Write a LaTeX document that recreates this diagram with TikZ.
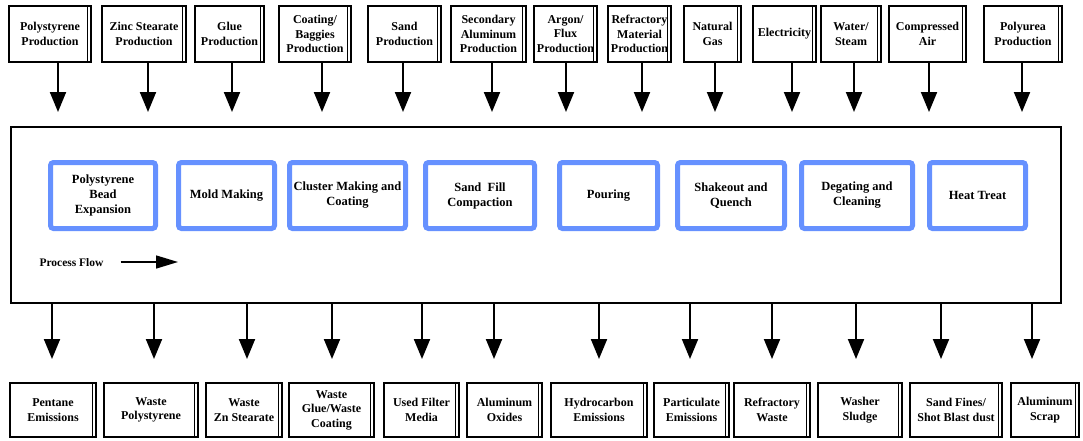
\documentclass[tikz,border=0pt]{standalone}
\usepackage{fontspec}
\setmainfont{Liberation Serif}
\usepackage{xcolor}
\usepackage{tikz}
\usetikzlibrary{arrows.meta}
\usetikzlibrary{calc}

\definecolor{procblue}{RGB}{102,145,255}

\tikzset{
  srcbox/.style={draw, line width=2.4pt, align=center, inner sep=1pt,
    font=\bfseries\fontsize{12}{14.5}\selectfont,
    path picture={\draw[line width=0.7pt]
      ([xshift=-3.2pt]path picture bounding box.north east) --
      ([xshift=-3.2pt]path picture bounding box.south east);}},
  procbox/.style={draw=procblue, line width=5pt, rounded corners=3pt,
    align=center, inner sep=1pt, minimum height=66pt,
    font=\bfseries\fontsize{12.5}{15}\selectfont},
  flow/.style={line width=2pt, -{Triangle[width=16pt,length=20pt]}},
  flowarrow/.style={line width=1.5pt, -{Triangle[width=13pt,length=22pt]}}
}

\begin{document}
\begin{tikzpicture}[x=1pt,y=-1pt]
\useasboundingbox (0,0) rectangle (1083,440);
%% main process frame
\node[draw, line width=2pt, minimum width=1050pt, minimum height=176pt, inner sep=0pt] (main) at (536,215) {};

%% inputs
\foreach \n/\cx/\w/\txt in {s1/50/84/{Polystyrene\\Production}, s2/144/86/{Zinc Stearate\\Production},
    s3/229.5/71/{Glue\\Production}, s4/315/74/{Coating/\\Baggies\\Production},
    s5/404.5/75/{Sand\\Production}, s6/488.5/77/{Secondary\\Aluminum\\Production},
    s7/565.5/65/{Argon/\\Flux\\Production}, s8/639.5/65/{Refractory\\Material\\Production},
    s9/712.5/59/{Natural\\Gas}, s10/784.5/65/{Electricity}, s11/851/62/{Water/\\Steam},
    s12/927.5/79/{Compressed\\Air}, s13/1023/80/{Polyurea\\Production}}
  \node[srcbox, minimum width=\w pt-2.4pt, minimum height=55.6pt] (\n) at (\cx,34) {\txt};

%% process steps
\foreach \n/\cx/\w/\txt in {p1/103/110/{Polystyrene\\Bead\\Expansion}, p2/226.5/101/{Mold Making},
    p3/347.5/121/{Cluster Making\ and\\Coating}, p4/480/114/{Sand\ \ Fill\\Compaction},
    p5/608.5/103/{Pouring}, p6/731/112/{Shakeout and\\Quench},
    p7/857/116/{Degating and\\Cleaning}, p8/977.5/101/{Heat Treat}}
  \node[procbox, minimum width=\w pt-5pt] (\n) at (\cx,195.5) {\txt};

\node[font=\bfseries\fontsize{11.5}{14}\selectfont, inner sep=1pt] (flowlbl) at (71.5,263) {Process Flow};
\coordinate (flowend) at (178,261);
\draw[flowarrow] ([xshift=16pt,yshift=1pt]flowlbl.east) -- ([yshift=1pt]flowlbl.east -| flowend);

%% outputs
\foreach \n/\cx/\w/\txt in {w1/53/88/{Pentane\\Emissions}, w2/151/96/{Waste\\Polystyrene},
    w3/244/78/{Waste\\Zn Stearate}, w4/331.5/87/{Waste\\Glue/Waste\\Coating},
    w5/421.5/77/{Used Filter\\Media}, w6/504.5/77/{Aluminum\\Oxides},
    w7/599/98/{Hydrocarbon\\Emissions}, w8/691.5/77/{Particulate\\Emissions},
    w9/772/78/{Refractory\\Waste}, w10/860/86/{Washer\\Sludge},
    w11/956/94/{Sand Fines/\\Shot Blast dust}, w12/1045/70/{Aluminum\\Scrap}}
  \node[srcbox, minimum width=\w pt-2.4pt, minimum height=53.6pt] (\n) at (\cx,410) {\txt};

%% connectors
\foreach \n/\dx in {s1/8, s2/4, s3/2.5, s4/7, s5/-1.5, s6/3.5, s7/0.5, s8/2.5, s9/2.5,
    s10/7.5, s11/3, s12/1.5, s13/-1}
  \draw[flow, shorten >=14pt] ([xshift=\dx pt]\n.south) -- ([xshift=\dx pt]\n.south |- main.north);
\foreach \n/\dx in {w1/-1, w2/3, w3/3, w4/0.5, w5/0.5, w6/-10.5, w7/0, w8/-1.5, w9/0,
    w10/-4, w11/-15, w12/-13}
  \draw[flow, shorten >=23pt] ([xshift=\dx pt]\n.north |- main.south) -- ([xshift=\dx pt]\n.north);
\end{tikzpicture}
\end{document}
